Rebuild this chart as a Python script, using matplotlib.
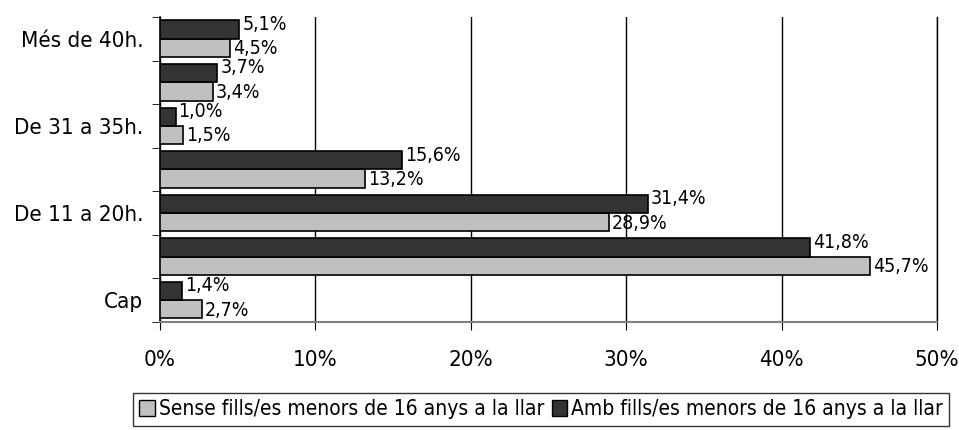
import matplotlib
matplotlib.use("Agg")
import matplotlib.pyplot as plt
import numpy as np
from matplotlib.patches import Patch

plt.rcParams['font.family'] = ['DejaVu Sans']
plt.rcParams['font.stretch'] = 'condensed'

# dades (de baix a dalt)
categories = ['Cap', 'De 1 a 10h.', 'De 11 a 20h.', 'De 21 a 30h.',
              'De 31 a 35h.', 'De 36 a 40h.', 'Més de 40h.']
sense = [2.7, 45.7, 28.9, 13.2, 1.5, 3.4, 4.5]
amb = [1.4, 41.8, 31.4, 15.6, 1.0, 3.7, 5.1]
series_names = ['Sense fills/es menors de 16 anys a la llar',
                'Amb fills/es menors de 16 anys a la llar']
xticks = [0, 10, 20, 30, 40, 50]

fig = plt.figure(figsize=(9.59, 4.3), dpi=100)
ax = fig.add_axes([0.1668, 0.2512, 0.8103, 0.7093])

y = np.arange(len(categories))
h = 0.42
b1 = ax.barh(y - h/2, sense, height=h, color='#c0c0c0', edgecolor='black', linewidth=1.2, zorder=3)
b2 = ax.barh(y + h/2, amb, height=h, color='#333333', edgecolor='black', linewidth=1.2, zorder=3)

for yy, v in zip(y - h/2, sense):
    ax.text(v + 0.2, yy - 0.02, f'{v:.1f}%'.replace('.', ','), va='center', ha='left', fontsize=14)
for yy, v in zip(y + h/2, amb):
    ax.text(v + 0.2, yy + 0.12, f'{v:.1f}%'.replace('.', ','), va='center', ha='left', fontsize=14)

ax.set_xlim(0, 50)
ax.set_ylim(-0.5, len(categories) - 0.5)
ax.set_xticks(xticks)
ax.set_xticklabels([f'{t}%' for t in xticks], fontsize=16)
ax.tick_params(axis='x', length=6, direction='out', pad=14)

# etiquetes de l'eix y: una de cada dues, marques entre categories
ax.set_yticks(y[::2])
ax.set_yticklabels([categories[i] for i in y[::2]], fontsize=16, va='center_baseline')
ax.tick_params(axis='y', length=0, pad=12)
ax.set_yticks(np.arange(-0.5, len(categories)), minor=True)
ax.tick_params(axis='y', which='minor', length=6, direction='out')

ax.grid(axis='x', color='black', linewidth=1, zorder=0)
ax.spines['top'].set_visible(False)
ax.spines['right'].set_color('black')
ax.spines['right'].set_linewidth(1)
ax.spines['bottom'].set_color('#808080')
ax.spines['bottom'].set_linewidth(1.5)
ax.spines['left'].set_linewidth(1.2)

handles = [Patch(facecolor='#c0c0c0', edgecolor='black'),
           Patch(facecolor='#333333', edgecolor='black')]
leg = fig.legend(handles, series_names, loc='upper left', bbox_to_anchor=(0.1387, 0.086),
                 ncol=2, fontsize=15, frameon=True, fancybox=False, handlelength=0.75,
                 handleheight=0.75, handletextpad=0.2, columnspacing=0.35, borderpad=0.3,
                 borderaxespad=0)
leg.get_frame().set_edgecolor('black')
leg.get_frame().set_linewidth(1)

fig.savefig('out.png', dpi=100)
